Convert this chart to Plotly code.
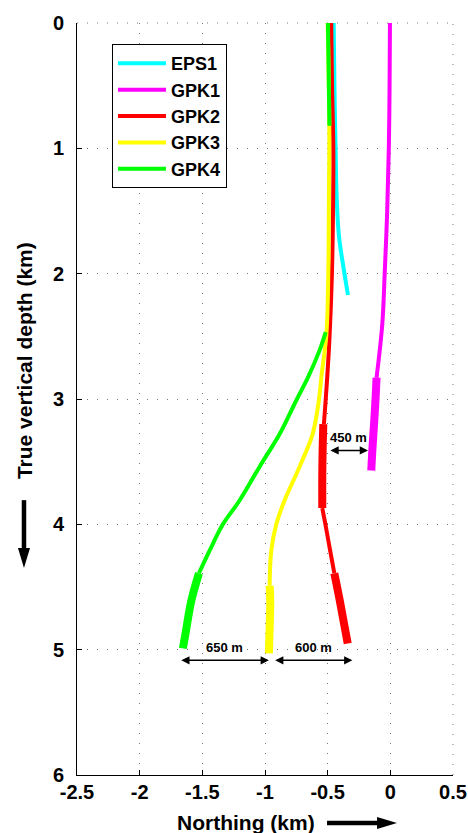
import plotly.graph_objects as go

# ---------------- data ----------------
# EPS1
eps1_depth = [0, 0.5, 1.0, 1.4, 1.7, 1.95, 2.17]
eps1_north = [-0.452, -0.446, -0.437, -0.428, -0.41, -0.374, -0.338]

# GPK1
gpk1_depth = [0, 0.5, 1.0, 1.5, 2.0, 2.4, 2.83]
gpk1_north = [-0.003, -0.006, -0.012, -0.025, -0.045, -0.064, -0.11]
gpk1_thick_depth = [2.83, 3.0, 3.2, 3.4, 3.57]
gpk1_thick_north = [-0.11, -0.118, -0.13, -0.143, -0.152]

# GPK2
gpk2_depth = [0, 0.5, 1.0, 1.4, 2.0, 2.5, 2.85, 3.2]
gpk2_north = [-0.472, -0.465, -0.455, -0.456, -0.466, -0.485, -0.505, -0.53]
gpk2_thick1_depth = [3.2, 3.4, 3.6, 3.87]
gpk2_thick1_north = [-0.535, -0.54, -0.543, -0.543]
gpk2_mid_depth = [3.87, 4.0, 4.2, 4.39]
gpk2_mid_north = [-0.543, -0.518, -0.482, -0.447]
gpk2_thick2_depth = [4.39, 4.6, 4.8, 4.95]
gpk2_thick2_north = [-0.447, -0.405, -0.368, -0.34]

# GPK3
gpk3_depth = [0, 0.82, 1.4, 2.0, 2.48, 2.83, 3.01, 3.28, 3.54, 3.81, 4.0, 4.21, 4.49]
gpk3_north = [-0.5, -0.487, -0.49, -0.495, -0.51, -0.551, -0.57, -0.62, -0.724,
              -0.844, -0.91, -0.95, -0.963]
gpk3_thick_depth = [4.49, 4.61, 4.8, 5.03]
gpk3_thick_north = [-0.963, -0.958, -0.962, -0.969]

# GPK4
gpk4_top_depth = [0, 0.4, 0.82]
gpk4_top_north = [-0.498, -0.492, -0.486]
gpk4_depth = [2.466, 2.61, 2.83, 3.01, 3.28, 3.54, 3.81, 4.0, 4.21, 4.39]
gpk4_north = [-0.516, -0.564, -0.658, -0.75, -0.883, -1.043, -1.203, -1.336, -1.442, -1.527]
gpk4_thick_depth = [4.39, 4.61, 4.87, 4.99]
gpk4_thick_north = [-1.527, -1.588, -1.634, -1.655]

# spacing annotations
spacing_labels = ["450 m", "650 m", "600 m"]
spacing_from = [-0.49, -1.68, -0.931]
spacing_to = [-0.178, -0.969, -0.303]
spacing_depth = [3.41, 5.085, 5.085]

# ticks
x_tickvals = [-2.5, -2, -1.5, -1, -0.5, 0, 0.5]
x_ticktext = ["-2.5", "-2", "-1.5", "-1", "-0.5", "0", "0.5"]
y_tickvals = [0, 1, 2, 3, 4, 5, 6]
y_ticktext = ["0", "1", "2", "3", "4", "5", "6"]

# ---------------- styling ----------------
THIN = 4
THICK = 8
FONT = "Liberation Sans, Arial, Helvetica, sans-serif"

colors = {"EPS1": "#00FFFF", "GPK1": "#FF00FF", "GPK2": "#FF0000",
          "GPK3": "#FFFF00", "GPK4": "#00FF00"}

segments = [
    ("EPS1", eps1_north, eps1_depth, THIN, True),
    ("GPK1", gpk1_north, gpk1_depth, THIN, True),
    ("GPK1", gpk1_thick_north, gpk1_thick_depth, THICK, False),
    ("GPK2", gpk2_north, gpk2_depth, THIN, True),
    ("GPK2", gpk2_thick1_north, gpk2_thick1_depth, THICK, False),
    ("GPK2", gpk2_mid_north, gpk2_mid_depth, THIN, False),
    ("GPK2", gpk2_thick2_north, gpk2_thick2_depth, THICK, False),
    ("GPK3", gpk3_north, gpk3_depth, THIN, True),
    ("GPK3", gpk3_thick_north, gpk3_thick_depth, THICK, False),
    ("GPK4", gpk4_top_north, gpk4_top_depth, THIN, True),
    ("GPK4", gpk4_north, gpk4_depth, THIN, False),
    ("GPK4", gpk4_thick_north, gpk4_thick_depth, THICK, False),
]

fig = go.Figure()
for name, xs, ys, w, show in segments:
    fig.add_trace(go.Scatter(
        x=xs, y=ys, mode="lines", name="<b>" + name + "</b>", legendgroup=name,
        showlegend=show, line=dict(color=colors[name], width=w, shape="spline"),
        hoverinfo="skip",
    ))

# spacing arrows + labels
for lab, x0, x1, d in zip(spacing_labels, spacing_from, spacing_to, spacing_depth):
    fig.add_annotation(x=x1, y=d, ax=x0, ay=d, xref="x", yref="y", axref="x", ayref="y",
                       text="", showarrow=True, arrowhead=2, arrowside="end+start",
                       arrowwidth=1.5, arrowsize=1.1, arrowcolor="black",
                       standoff=0, startstandoff=0)
    fig.add_annotation(x=(x0 + x1) / 2, y=d, xref="x", yref="y", text="<b>" + lab + "</b>",
                       showarrow=False, yshift=13,
                       font=dict(family=FONT, size=13, color="black"))

# axis titles as annotations
fig.add_annotation(x=-0.141, y=0.5517, xref="paper", yref="paper",
                   text="<b>True vertical depth (km)</b>", textangle=-90, showarrow=False,
                   xanchor="center", yanchor="middle",
                   font=dict(family=FONT, size=21, color="black"))
fig.add_annotation(x=0.4495, y=-0.0638, xref="paper", yref="paper",
                   text="<b>Northing (km)</b>", showarrow=False,
                   xanchor="center", yanchor="middle",
                   font=dict(family=FONT, size=21, color="black"))

# title arrows and edge grid lines (shapes in paper coordinates)
shapes = []
shapes.append(dict(type="line", xref="paper", yref="paper", x0=0.665, x1=0.80,
                   y0=-0.0638, y1=-0.0638, line=dict(color="black", width=4.5)))
shapes.append(dict(type="path", xref="paper", yref="paper",
                   path="M 0.798 -0.0558 L 0.851 -0.0638 L 0.798 -0.0718 Z",
                   fillcolor="black", line=dict(color="black", width=0)))
shapes.append(dict(type="line", xref="paper", yref="paper", x0=-0.141, x1=-0.141,
                   y0=0.3655, y1=0.300, line=dict(color="black", width=4.5)))
shapes.append(dict(type="path", xref="paper", yref="paper",
                   path="M -0.157 0.3018 L -0.141 0.2752 L -0.125 0.3018 Z",
                   fillcolor="black", line=dict(color="black", width=0)))
# dotted lines along top and right edges
shapes.append(dict(type="line", xref="paper", yref="paper", x0=0, x1=1, y0=1, y1=1,
                   line=dict(color="#777777", width=1, dash="1px,9px"), layer="below"))
shapes.append(dict(type="line", xref="paper", yref="paper", x0=1, x1=1, y0=0, y1=1,
                   line=dict(color="#777777", width=1, dash="1px,9px"), layer="below"))
fig.update_layout(shapes=shapes)

fig.update_layout(
    width=468, height=833,
    margin=dict(l=77, r=15, t=23, b=58, autoexpand=False),
    paper_bgcolor="white", plot_bgcolor="white",
    font=dict(family=FONT, color="black"),
    showlegend=True,
    legend=dict(x=0.093, y=0.972, xanchor="left", yanchor="top",
                bgcolor="white", bordercolor="black", borderwidth=1,
                font=dict(family=FONT, size=18, color="black"),
                itemwidth=48, tracegroupgap=0),
)
fig.update_xaxes(
    range=[-2.5, 0.5], tickvals=x_tickvals,
    ticktext=["<b>" + t + "</b>" for t in x_ticktext],
    showline=True, linecolor="black", linewidth=1,
    ticks="inside", ticklen=5, tickcolor="black",
    showgrid=True, gridcolor="#777777", gridwidth=1, griddash="1px,9px",
    zeroline=False, mirror=False, automargin=False, ticklabelstandoff=-1,
    tickfont=dict(family=FONT, size=20, color="black"),
)
fig.update_yaxes(
    range=[6, 0], tickvals=y_tickvals,
    ticktext=["<b>" + t + "</b>" for t in y_ticktext],
    showline=True, linecolor="black", linewidth=1,
    ticks="inside", ticklen=5, tickcolor="black",
    showgrid=True, gridcolor="#777777", gridwidth=1, griddash="1px,9px",
    zeroline=False, mirror=False, automargin=False, ticklabelstandoff=8,
    tickfont=dict(family=FONT, size=20, color="black"),
)

# remove the default 8px page margin so the figure fills the window exactly
fig.write_html("out.html", config={"displayModeBar": False},
               post_script="document.body.style.margin='0';")
